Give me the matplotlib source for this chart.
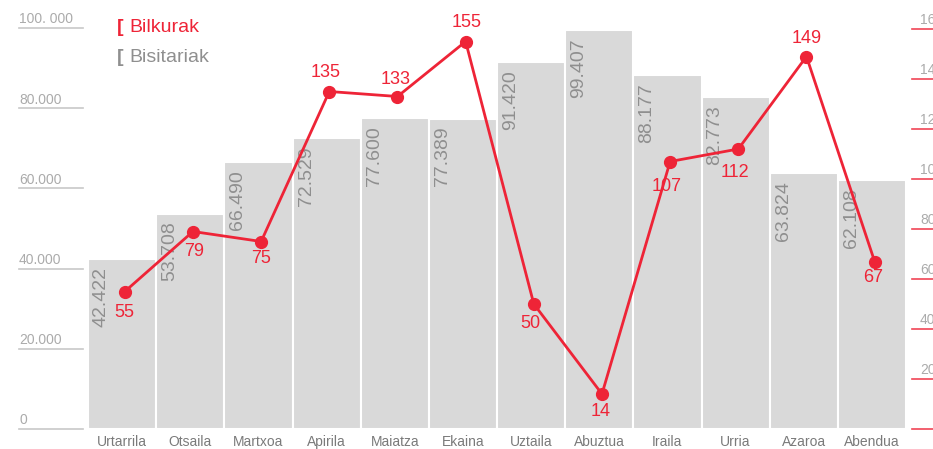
import matplotlib
matplotlib.use('Agg')
from matplotlib import pyplot as plt
from matplotlib import transforms

plt.rcParams['font.family'] = ['Liberation Sans Narrow', 'Liberation Sans', 'DejaVu Sans']

months = ['Urtarrila', 'Otsaila', 'Martxoa', 'Apirila', 'Maiatza', 'Ekaina',
          'Uztaila', 'Abuztua', 'Iraila', 'Urria', 'Azaroa', 'Abendua']
bisitariak = [42422, 53708, 66490, 72529, 77600, 77389, 91420, 99407, 88177, 82773, 63824, 62108]
bilkurak = [55, 79, 75, 135, 133, 155, 50, 14, 107, 112, 149, 67]

left_ticks = [0, 20000, 40000, 60000, 80000, 100000]
left_tick_labels = ['0', '20.000', '40.000', '60.000', '80.000', '100. 000']
right_ticks = [0, 20, 40, 60, 80, 100, 120, 140, 160]

RED = '#ee2437'
BAR = '#d9d9d9'

# label offsets (pixels) for the red numbers: above or below the dot
label_offsets = [(0, -21), (1, -20), (0, -17), (-4, 19), (-2, 17), (1, 19),
                 (-3, -20), (-1, -17), (-4, -25), (-3, -23), (0, 18), (-2, -16)]

fig = plt.figure(figsize=(9.33, 4.49), dpi=100)
ax = fig.add_axes([88 / 933, 20 / 449, 818 / 933, 429 / 449])
ax2 = ax.twinx()

x = list(range(len(months)))
ax.bar(x, bisitariak, width=1.0, color=BAR, edgecolor='white', linewidth=1.5, zorder=1)
ax.set_xlim(-0.5, 11.5)
ax.set_ylim(0, 429 / 0.00401)
ax2.set_ylim(0, 429 / 2.5)

for i, v in enumerate(bisitariak):
    lab = f'{v:,}'.replace(',', '.')
    ax.annotate(lab, xy=(i - 0.5, v), xytext=(5, -8), textcoords='offset pixels',
                rotation=90, rotation_mode='anchor', ha='right', va='top',
                fontsize=14, color='#8f8f8f', zorder=2)

xp = [i + 0.04 for i in x]
ax2.plot(xp, bilkurak, color=RED, linewidth=2, marker='o', markersize=8.5, zorder=3)
for i, v in enumerate(bilkurak):
    dx, dy = label_offsets[i]
    ax2.annotate(str(v), xy=(xp[i], v), xytext=(dx, dy), textcoords='offset pixels',
                 ha='center', va='center', fontsize=13, color=RED, zorder=4)

for a in (ax, ax2):
    for s in a.spines.values():
        s.set_visible(False)
    a.set_yticks([])
ax.set_xticks(x)
ax.set_xticklabels(months, fontsize=10, color='#7a7a7a')
ax.tick_params(axis='x', length=0, pad=4)

# left scale: underlined labels
tl = transforms.blended_transform_factory(fig.transFigure, ax.transData)
for v, lab in zip(left_ticks, left_tick_labels):
    ax.plot([19 / 933, 83 / 933], [v, v], transform=tl, color='#c8c8c8', linewidth=1.2, clip_on=False)
    ax.text(19 / 933, v + 400, lab, transform=tl, fontsize=10, color='#ababab',
            ha='left', va='bottom')

# right scale: red underlines, labels cut by the edge as in the original
tr = transforms.blended_transform_factory(fig.transFigure, ax2.transData)
for v in right_ticks:
    ax2.plot([912 / 933, 1.0], [v, v], transform=tr, color=RED, linewidth=1.2, clip_on=False, alpha=0.85)
    if v > 0:
        ax2.text(920 / 933, v + 0.7, str(v), transform=tr, fontsize=10, color='#ababab',
                 ha='left', va='bottom')

# legend
fig.text(117 / 933, 1 - 27 / 449, '[', color=RED, fontsize=14, fontweight='bold', va='center')
fig.text(129 / 933, 1 - 27 / 449, 'Bilkurak', color=RED, fontsize=14, va='center')
fig.text(117 / 933, 1 - 57 / 449, '[', color='#8f8f8f', fontsize=14, fontweight='bold', va='center')
fig.text(129 / 933, 1 - 57 / 449, 'Bisitariak', color='#8f8f8f', fontsize=14, va='center')

fig.savefig('out.png', dpi=100)
